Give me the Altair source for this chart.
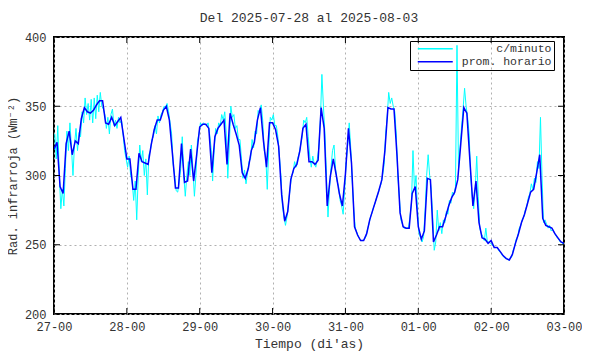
import altair as alt
import pandas as pd

FONT = "Courier New, Courier, Liberation Mono, monospace"
TITLE = "Del 2025-07-28 al 2025-08-03"
X_TITLE = "Tiempo (di'as)"
Y_TITLE = "Rad. infrarroja (Wm⁻²)"
DAY_LABELS = ["27-00", "28-00", "29-00", "30-00", "31-00", "01-00", "02-00", "03-00"]
Y_TICKS = [200, 250, 300, 350, 400]
SERIES = ["c/minuto", "prom. horario"]
COLORS = ["#00ffff", "#0000ff"]

# hourly mean (one value per hour, 27-00 .. 03-00)
HOURLY = [
    319, 324, 292, 287, 323, 332, 315, 325, 323, 341, 349, 346, 345, 347, 351, 354, 354, 338, 337, 342, 336, 339, 342, 327,
    312, 312, 290, 290, 316, 310, 309, 308, 322, 333, 340, 340, 347, 350, 340, 316, 291, 291, 323, 295, 296, 319, 296, 315,
    335, 337, 337, 334, 302, 328, 334, 337, 340, 308, 345, 337, 330, 322, 302, 298, 305, 318, 324, 340, 349, 325, 306, 338,
    338, 333, 321, 286, 267, 274, 297, 305, 308, 318, 334, 337, 310, 310, 308, 311, 349, 334, 278, 299, 312, 300, 287, 278,
    301, 334, 309, 263, 257, 253, 253, 258, 268, 275, 282, 289, 297, 318, 349, 348, 348, 314, 273, 263, 262, 262, 287, 292,
    263, 254, 260, 298, 297, 252, 257, 263, 263, 270, 278, 284, 288, 297, 323, 349, 345, 311, 278, 296, 266, 255, 254, 251,
    253, 248, 248, 245, 242, 240, 239, 243, 251, 258, 266, 272, 280, 288, 290, 302, 315, 269, 264, 263, 262, 258, 255, 252,
    251,
]

# per-minute readings, sampled twice per hour (hh:15, hh:45)
MINUTE = [
    330, 312, 336, 300, 276, 290, 278, 305, 332, 318, 338, 320, 300, 322, 334, 318, 331, 328, 346, 338, 356, 344, 352, 340,
    355, 338, 356, 341, 358, 346, 360, 350, 348, 344, 334, 342, 330, 344, 348, 336, 340, 334, 342, 338, 340, 330, 318, 312,
    306, 314, 300, 296, 282, 296, 268, 300, 322, 310, 318, 300, 312, 286, 315, 318, 326, 328, 336, 330, 343, 338, 344, 346,
    350, 349, 352, 346, 338, 330, 308, 300, 289, 288, 296, 305, 328, 300, 285, 300, 310, 300, 322, 305, 285, 300, 325, 330,
    338, 336, 338, 337, 336, 338, 330, 320, 296, 318, 334, 330, 338, 336, 344, 340, 346, 330, 298, 322, 350, 342, 344, 334,
    336, 326, 326, 312, 298, 304, 294, 302, 310, 312, 326, 320, 332, 330, 347, 345, 351, 340, 318, 314, 290, 320, 342, 340,
    344, 336, 336, 328, 314, 300, 278, 270, 264, 270, 280, 290, 300, 302, 310, 306, 312, 316, 322, 328, 340, 338, 342, 328,
    314, 306, 314, 308, 306, 312, 320, 340, 373, 350, 330, 300, 270, 290, 306, 318, 322, 305, 296, 292, 282, 278, 272, 290,
    310, 322, 338, 320, 296, 275, 262, 259, 256, 254, 253, 253, 254, 256, 261, 265, 270, 273, 277, 280, 284, 287, 291, 294,
    300, 308, 330, 342, 360, 352, 356, 350, 346, 330, 300, 285, 268, 265, 262, 262, 262, 262, 270, 280, 318, 290, 300, 275,
    258, 255, 252, 256, 275, 300, 315, 300, 290, 270, 246, 252, 275, 260, 266, 258, 268, 266, 274, 272, 282, 280, 288, 286,
    292, 394, 305, 320, 335, 348, 363, 350, 342, 330, 300, 285, 276, 290, 314, 285, 262, 258, 256, 253, 262, 252, 252, 251,
    250, 249, 248, 248, 247, 245, 244, 242, 241, 240, 240, 239, 240, 241, 246, 249, 254, 256, 262, 264, 268, 270, 275, 278,
    284, 287, 294, 290, 298, 295, 310, 305, 342, 300, 266, 268, 265, 262, 264, 260, 261, 259, 257, 255, 254, 252, 252, 250,
]

W, H = 510, 277
x_ticks = [24 * i for i in range(len(DAY_LABELS))]
label_expr = "[" + ",".join(f"'{d}'" for d in DAY_LABELS) + "][round(datum.value/24)]"

minute_df = pd.DataFrame({
    "hora": [0.25 + 0.5 * k for k in range(len(MINUTE))],
    "valor": MINUTE,
    "serie": SERIES[0],
})
hourly_df = pd.DataFrame({
    "hora": list(range(len(HOURLY))),
    "valor": HOURLY,
    "serie": SERIES[1],
})

xscale = alt.Scale(domain=[0, 168], nice=False, zero=False)
yscale = alt.Scale(domain=[200, 400], nice=False, zero=False)
color = alt.Color(
    "serie:N",
    scale=alt.Scale(domain=SERIES, range=COLORS),
    legend=alt.Legend(
        title=None, orient="none", legendX=356, legendY=4,
        strokeColor="black", padding=2,
        symbolType="M0,0H8.75", symbolSize=64, symbolStrokeWidth=1.5,
        labelAlign="right", labelOffset=128,
        labelFont=FONT, labelFontSize=11.5, labelColor="#333333",
        rowPadding=0,
    ),
)

xaxis = alt.Axis(values=x_ticks, labelExpr=label_expr, title=X_TITLE, grid=True,
                 ticks=False, domain=False, labelPadding=7, titlePadding=5,
                 labelFlush=False)
yaxis = alt.Axis(values=Y_TICKS, title=Y_TITLE, grid=True, ticks=False, domain=False,
                 labelPadding=8, titlePadding=5, titleFontSize=12)

minute_line = alt.Chart(minute_df).mark_line(strokeWidth=1, clip=True).encode(
    x=alt.X("hora:Q", scale=xscale, axis=xaxis),
    y=alt.Y("valor:Q", scale=yscale, axis=yaxis),
    color=color,
)
hourly_line = alt.Chart(hourly_df).mark_line(strokeWidth=1.5, clip=True).encode(
    x=alt.X("hora:Q", scale=xscale),
    y=alt.Y("valor:Q", scale=yscale),
    color=color,
)

xt = pd.DataFrame({"hora": x_ticks})
yt = pd.DataFrame({"valor": Y_TICKS})
tick_bottom = alt.Chart(xt).mark_rule(color="black", strokeWidth=1).encode(
    x=alt.X("hora:Q", scale=xscale), y=alt.value(H), y2=alt.value(H - 6))
tick_top = alt.Chart(xt).mark_rule(color="black", strokeWidth=1).encode(
    x=alt.X("hora:Q", scale=xscale), y=alt.value(0), y2=alt.value(6))
tick_left = alt.Chart(yt).mark_rule(color="black", strokeWidth=1).encode(
    y=alt.Y("valor:Q", scale=yscale), x=alt.value(0), x2=alt.value(6))
tick_right = alt.Chart(yt).mark_rule(color="black", strokeWidth=1).encode(
    y=alt.Y("valor:Q", scale=yscale), x=alt.value(W), x2=alt.value(W - 6))

chart = alt.layer(
    minute_line, hourly_line, tick_bottom, tick_top, tick_left, tick_right
).properties(
    width=W, height=H,
    title=alt.TitleParams(TITLE, font=FONT, fontSize=13, fontWeight="normal",
                          color="#333333", offset=6),
    autosize=alt.AutoSizeParams(type="none"),
    padding={"left": 46, "top": 29, "right": 18, "bottom": 40},
    background="white",
).configure_view(
    stroke="black", strokeWidth=2
).configure_axis(
    labelFont=FONT, labelFontSize=12, labelColor="#333333",
    titleFont=FONT, titleFontSize=13, titleFontWeight="normal", titleColor="#333333",
    gridColor="#b0b0b0", gridDash=[2, 3], gridWidth=1,
)

chart.save("out.html", embed_options={"renderer": "svg", "actions": False})
